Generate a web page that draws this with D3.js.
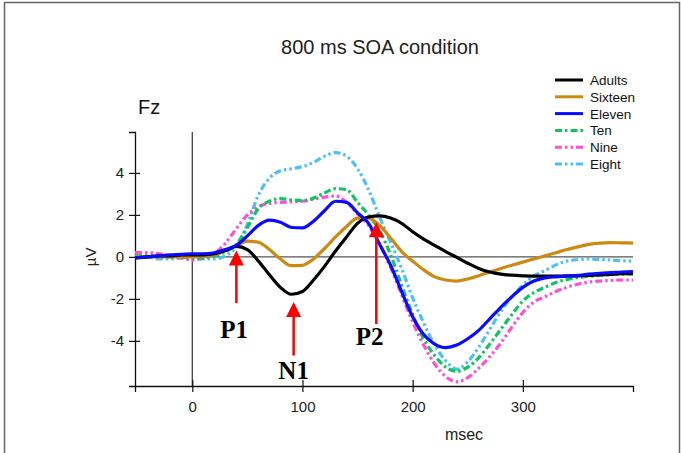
<!DOCTYPE html>
<html>
<head>
<meta charset="utf-8">
<script src="https://cdn.jsdelivr.net/npm/d3@7"></script>
<style>
body { margin: 0; background: #fff; }
text { font-family: "Liberation Sans", Arial, sans-serif; }
</style>
</head>
<body>
<svg id="chart" width="681" height="453"></svg>
<script>
// time points (msec)
const times = [-52,-40,-30,-20,-10,0,10,20,30,40,50,60,70,80,90,100,110,120,130,140,150,160,170,180,190,200,210,220,230,240,250,260,270,280,290,300,310,320,330,340,350,360,370,380,390,400];

// grand average amplitudes (µV) per group
const adults  = [-0.05,0,0.05,0.05,0.1,0.1,0.1,0.15,0.3,0.5,0.35,-0.2,-0.85,-1.45,-1.78,-1.65,-1.1,-0.45,0.28,0.95,1.6,1.9,1.95,1.85,1.6,1.2,0.85,0.55,0.25,-0.02,-0.3,-0.55,-0.72,-0.82,-0.87,-0.9,-0.92,-0.92,-0.92,-0.9,-0.9,-0.88,-0.85,-0.83,-0.8,-0.78];
const sixteen = [0,0,0,0,0,0,0.05,0.1,0.3,0.55,0.75,0.7,0.35,-0.1,-0.42,-0.4,-0.1,0.4,0.95,1.45,1.85,1.85,1.5,0.9,0.25,-0.2,-0.62,-0.95,-1.1,-1.15,-1.05,-0.9,-0.72,-0.55,-0.4,-0.25,-0.1,0.05,0.2,0.35,0.48,0.6,0.66,0.68,0.67,0.66];
const eleven  = [-0.05,0,0.05,0.1,0.12,0.15,0.15,0.2,0.35,0.55,1.0,1.5,1.75,1.65,1.4,1.38,1.7,2.2,2.65,2.6,2.1,1.6,0.6,-0.4,-1.65,-2.85,-3.7,-4.15,-4.32,-4.2,-3.9,-3.5,-2.95,-2.4,-1.9,-1.45,-1.15,-1.0,-0.95,-0.92,-0.88,-0.82,-0.78,-0.75,-0.72,-0.7];
const ten     = [0.05,0.05,0,0,0,-0.05,-0.05,0.05,0.25,0.6,1.4,2.3,2.65,2.78,2.72,2.68,2.8,3.05,3.25,3.2,2.6,2.0,1.25,0.1,-1.35,-2.75,-3.9,-4.7,-5.25,-5.45,-5.25,-4.8,-4.15,-3.45,-2.75,-2.1,-1.7,-1.45,-1.22,-1.08,-0.98,-0.93,-0.88,-0.85,-0.83,-0.82];
const nine    = [0.2,0.2,0.15,0.05,-0.05,-0.15,-0.05,0.15,0.65,1.35,2.0,2.4,2.55,2.6,2.62,2.65,2.75,2.85,2.9,2.6,2.05,1.5,0.6,-0.5,-1.8,-3.1,-4.2,-5.1,-5.7,-5.95,-5.75,-5.3,-4.75,-4.1,-3.35,-2.65,-2.15,-1.9,-1.65,-1.45,-1.3,-1.2,-1.15,-1.12,-1.1,-1.1];
const eight   = [0.05,0,-0.1,-0.1,-0.05,-0.05,-0.1,-0.1,0.05,0.5,1.55,2.95,3.75,4.1,4.2,4.3,4.5,4.8,4.97,4.8,4.2,3.2,1.9,0.7,-0.55,-1.95,-3.15,-4.2,-4.95,-5.35,-5.0,-4.3,-3.45,-2.6,-1.9,-1.35,-0.9,-0.65,-0.38,-0.2,-0.13,-0.1,-0.12,-0.15,-0.18,-0.2];

const groups = ["Adults", "Sixteen", "Eleven", "Ten", "Nine", "Eight"];
const colors = ["#000000", "#cc8a12", "#0a0aff", "#12c45e", "#ff4fd6", "#4cc0f7"];
const dashes = [null, null, null, "7,3,2.5,3", "7,3,2.5,3,2.5,3", "7,3,2.5,3,2.5,3"];

const xTicks = [0, 100, 200, 300];
const yTicks = [-4, -2, 0, 2, 4];

// ERP component markers
const peakLabels = ["P1", "N1", "P2"];
const peakTimes = [40, 92, 167];
const arrowTips = [0.3, -2.15, 1.65];
const arrowBases = [-2.2, -4.7, -3.2];
const labelTimes = [38, 92, 161];
const labelValues = [-3.85, -5.8, -4.2];

const svg = d3.select("#chart");

svg.append("rect").attr("width", 681).attr("height", 453).attr("fill", "#fff");
// outer frame (left, top, right)
svg.append("path")
  .attr("d", "M4.5,453V2.5H679.5V453")
  .attr("fill", "none").attr("stroke", "#666").attr("stroke-width", 1.5);

const x = d3.scaleLinear().domain([-52, 400]).range([135, 633]);
const y = d3.scaleLinear().domain([-6.15, 5.95]).range([386, 132]);

// title
svg.append("text")
  .attr("x", 380).attr("y", 54)
  .attr("text-anchor", "middle")
  .attr("font-size", 20).attr("fill", "#222")
  .text("800 ms SOA condition");

svg.append("text")
  .attr("x", 138).attr("y", 114)
  .attr("font-size", 20).attr("fill", "#111")
  .text("Fz");

// reference lines
svg.append("line")
  .attr("x1", x(-52)).attr("x2", x(400))
  .attr("y1", y(0)).attr("y2", y(0))
  .attr("stroke", "#555").attr("stroke-width", 1.2);
svg.append("line")
  .attr("x1", x(0)).attr("x2", x(0))
  .attr("y1", y(5.95)).attr("y2", y(-6.15))
  .attr("stroke", "#333").attr("stroke-width", 1.2);

// axes
const yAxis = svg.append("g")
  .attr("transform", `translate(${x(-52)},0)`)
  .call(d3.axisLeft(y).tickValues(yTicks).tickSizeOuter(0).tickSize(6).tickPadding(5)
    .tickFormat(d => String(d)));
yAxis.selectAll(".tick line").attr("x2", -6).attr("x1", 5);
yAxis.selectAll("text").attr("font-size", 15).attr("fill", "#222")
  .style("font-family", "'Liberation Sans', Arial, sans-serif");

const xAxis = svg.append("g")
  .attr("transform", `translate(0,${y(-6.15)})`)
  .call(d3.axisBottom(x).tickValues(xTicks).tickSizeOuter(0).tickSize(6).tickPadding(9)
    .tickFormat(d => String(d)));
xAxis.selectAll(".tick line").attr("y1", -6).attr("y2", 6);
xAxis.selectAll("text").attr("font-size", 15).attr("fill", "#222")
  .style("font-family", "'Liberation Sans', Arial, sans-serif");
svg.selectAll(".domain").attr("stroke", "#111").attr("stroke-width", 1.3);
svg.selectAll(".tick line").attr("stroke", "#111").attr("stroke-width", 1.2);

svg.append("text")
  .attr("transform", `translate(96,${y(0)}) rotate(-90)`)
  .attr("text-anchor", "middle")
  .attr("font-size", 15).attr("fill", "#222")
  .text("µV");

svg.append("text")
  .attr("x", 464).attr("y", 440)
  .attr("text-anchor", "middle")
  .attr("font-size", 16).attr("fill", "#222")
  .text("msec");

// waveforms
const series = [adults, sixteen, eleven, ten, nine, eight];
const line = d3.line()
  .x((d, i) => x(times[i]))
  .y(d => y(d))
  .curve(d3.curveMonotoneX);

const drawOrder = [5, 4, 3, 1, 0, 2];
drawOrder.forEach(k => {
  svg.append("path")
    .datum(series[k])
    .attr("d", line)
    .attr("fill", "none")
    .attr("stroke", colors[k])
    .attr("stroke-width", 3.2)
    .attr("stroke-dasharray", dashes[k]);
});

// legend
const legend = svg.append("g");
groups.forEach((g, i) => {
  const ly = 80 + i * 16.8;
  legend.append("line")
    .attr("x1", 555).attr("x2", 583)
    .attr("y1", ly).attr("y2", ly)
    .attr("stroke", colors[i]).attr("stroke-width", 3)
    .attr("stroke-dasharray", dashes[i]);
  legend.append("text")
    .attr("x", 590).attr("y", ly + 5)
    .attr("font-size", 13.5).attr("fill", "#111")
    .text(g);
});

// arrows + component labels
peakLabels.forEach((lab, i) => {
  const ax = x(peakTimes[i]);
  const tipY = y(arrowTips[i]);
  svg.append("line")
    .attr("x1", ax).attr("x2", ax)
    .attr("y1", tipY + 12).attr("y2", y(arrowBases[i]))
    .attr("stroke", "#ff0000").attr("stroke-width", 2.5);
  svg.append("path")
    .attr("d", `M${ax},${tipY}L${ax - 7.5},${tipY + 15}L${ax + 7.5},${tipY + 15}Z`)
    .attr("fill", "#ff0000");
  svg.append("text")
    .attr("x", x(labelTimes[i])).attr("y", y(labelValues[i]))
    .attr("text-anchor", "middle")
    .attr("font-size", 25).attr("font-weight", "bold")
    .style("font-family", "'Liberation Serif', 'Times New Roman', serif")
    .attr("fill", "#000")
    .text(lab);
});
</script>
</body>
</html>
